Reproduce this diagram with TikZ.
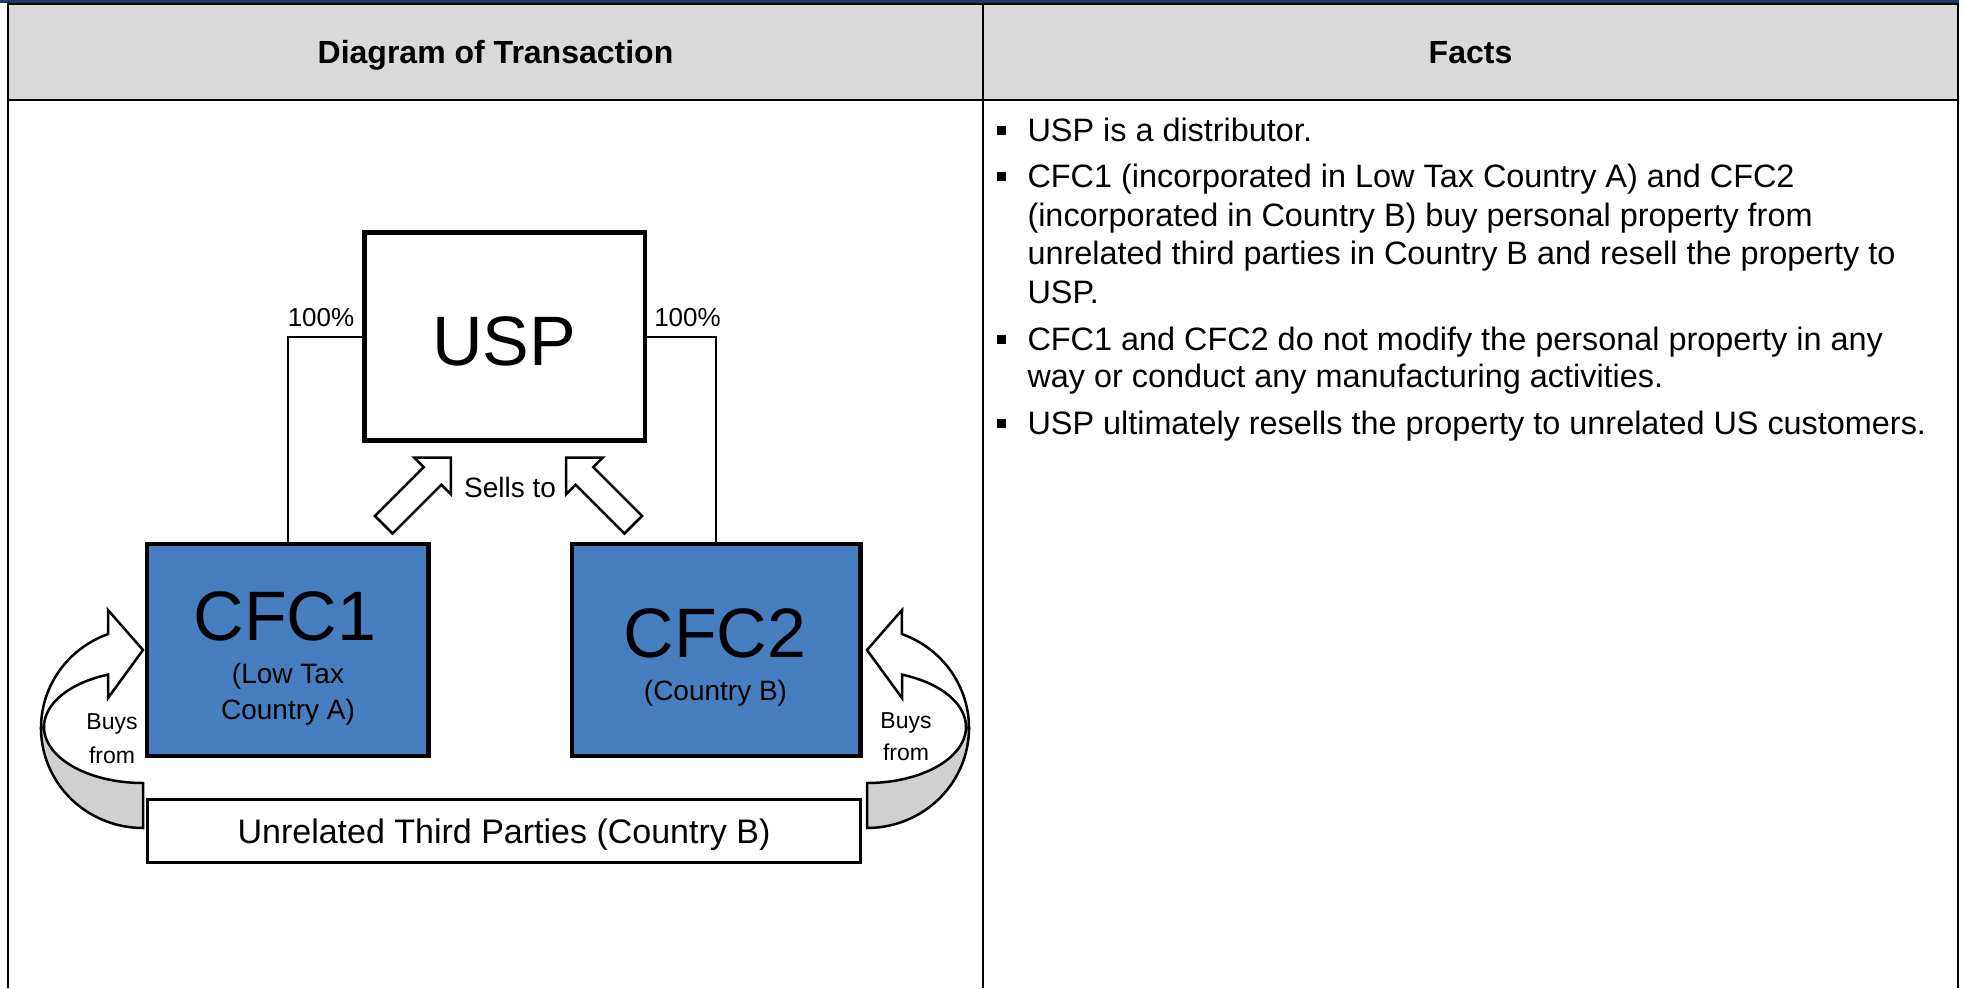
\documentclass[tikz,border=0pt]{standalone}
\usepackage{fontspec}
\setmainfont{Liberation Sans}
\definecolor{hdrgray}{HTML}{D9D9D9}
\definecolor{cfcblue}{RGB}{70,126,192}
\definecolor{navyband}{HTML}{1F3864}
\definecolor{backgray}{HTML}{D0D0D0}
\newcommand{\setfs}[1]{\fontsize{#1}{#1}\selectfont}
\newcommand{\buysarrow}{%
  \draw[blockarrow, fill=backgray]
    plot[domain=180:90, samples=40, variable=\t] ({143+102*cos(\t)},{728+100*sin(\t)})
    -- plot[domain=90:180, samples=40, variable=\t] ({143+99*cos(\t)},{727+56*sin(\t)})
    -- cycle;
  \draw[blockarrow]
    (143,650) -- (108,610)
    -- plot[domain=250:180, samples=40, variable=\t] ({143+102*cos(\t)},{728+100*sin(\t)})
    -- plot[domain=180:249.3, samples=40, variable=\t] ({143+99*cos(\t)},{727+56*sin(\t)})
    -- (108,698) -- cycle;
}
\newcommand{\sellsarrow}{%
  \draw[blockarrow] (374.98,515.98) -- (423.77,467.19) -- (414.16,457.58) -- (450.93,457.57)
    -- (450.92,494.34) -- (441.31,484.73) -- (392.52,533.52) -- cycle;
}
\begin{document}
\begin{tikzpicture}[x=1pt,y=-1pt,
  txt/.style={inner sep=0, outer sep=0},
  boxw/.style={draw, line width=4.5, fill=white, inner sep=0, outer sep=0},
  cfcbox/.style={draw, line width=4.5, fill=cfcblue, inner sep=0, outer sep=0},
  thinbox/.style={draw, line width=3, fill=white, inner sep=0, outer sep=0},
  conn/.style={line width=2},
  blockarrow/.style={draw, line width=2.5, fill=white, line join=miter},
  tableline/.style={line width=2.3},
  bulletsq/.style={rectangle, fill=black, minimum size=9, inner sep=0, outer sep=0}]
\fill[white] (0,0) rectangle (1965,988);
\useasboundingbox (0,0) rectangle (1965,988);
% table
\fill[navyband] (0,0) rectangle (1959,2.7);
\fill[hdrgray] (8,3.7) rectangle (1958,100);
\draw[tableline] (7,3.7) -- (1959,3.7);
\draw[tableline] (8,100) -- (1958,100);
\draw[tableline] (8,2.7) -- (8,988);
\draw[tableline] (1958,2.7) -- (1958,988);
\draw[tableline] (983,3.7) -- (983,988);
\node[txt, anchor=base, font={\bfseries\setfs{32}}] (hdiag) at (495.5,63) {Diagram of Transaction};
\node[txt, anchor=base, font={\bfseries\setfs{32}}] (hfacts) at (1470.5,63) {Facts};
% facts
\begin{scope}[every node/.append style={txt, anchor=base west, font=\setfs{32.4}}]
\node (f1) at (1027.5,141.7) {USP is a distributor.};
\node (f2) at (1027.5,187.3) {CFC1 (incorporated in Low Tax Country A) and CFC2};
\node (f3) at (1027.5,226) {(incorporated in Country B) buy personal property from};
\node (f4) at (1027.5,264.3) {unrelated third parties in Country B and resell the property to};
\node (f5) at (1027.5,303.3) {USP.};
\node (f6) at (1027.5,350) {CFC1 and CFC2 do not modify the personal property in any};
\node (f7) at (1027.5,387.7) {way or conduct any manufacturing activities.};
\node (f8) at (1027.5,434.5) {USP ultimately resells the property to unrelated US customers.};
\end{scope}
\node[bulletsq] (b1) at (1001,130.8) {};
\node[bulletsq] (b2) at (1001,176.4) {};
\node[bulletsq] (b3) at (1001,339.1) {};
\node[bulletsq] (b4) at (1001,423.6) {};
% diagram boxes
\node[boxw, minimum width=280.5, minimum height=208] (usp) at (504.75,336.5) {};
\node[cfcbox, minimum width=281.5, minimum height=212] (cfc1) at (287.75,650) {};
\node[cfcbox, minimum width=288.5, minimum height=212] (cfc2) at (716,650) {};
\node[thinbox, minimum width=713, minimum height=63.5] (third) at (503.5,831) {};
% ownership connectors
\draw[conn] (usp.west) -- (usp.west -| cfc1.north) -- (cfc1.north);
\draw[conn] (usp.east) -- (usp.east -| cfc2.north) -- (cfc2.north);
% labels
\node[txt, anchor=base, font=\setfs{70}] (usplbl) at (504,365) {USP};
\node[txt, anchor=base, font=\setfs{70}] (cfc1lbl) at (285,640) {CFC1};
\node[txt, anchor=base, font=\setfs{28}] (cfc1a) at (288,683) {(Low Tax};
\node[txt, anchor=base, font=\setfs{28}] (cfc1b) at (288,719) {Country A)};
\node[txt, anchor=base, font=\setfs{70}] (cfc2lbl) at (715,657) {CFC2};
\node[txt, anchor=base, font=\setfs{28}] (cfc2a) at (715.5,700) {(Country B)};
\node[txt, anchor=base, font=\setfs{34}] (thirdlbl) at (504,843) {Unrelated Third Parties (Country B)};
\node[txt, anchor=base, font=\setfs{26}] (pctl) at (321,326) {100\%};
\node[txt, anchor=base, font=\setfs{26}] (pctr) at (687.5,326) {100\%};
% sells arrows
\sellsarrow
\begin{scope}[xshift=1017, xscale=-1]
\sellsarrow
\end{scope}
\node[txt, anchor=base, font=\setfs{28}] (sells) at (510,497) {Sells to};
% buys arrows
\buysarrow
\begin{scope}[xshift=1010, xscale=-1]
\buysarrow
\end{scope}
\node[txt, anchor=base, font=\setfs{23}] (buysl1) at (112,729) {Buys};
\node[txt, anchor=base, font=\setfs{23}] (buysl2) at (112,763) {from};
\node[txt, anchor=base, font=\setfs{23}] (buysr1) at (906,728) {Buys};
\node[txt, anchor=base, font=\setfs{23}] (buysr2) at (906,760) {from};
\end{tikzpicture}
\end{document}
